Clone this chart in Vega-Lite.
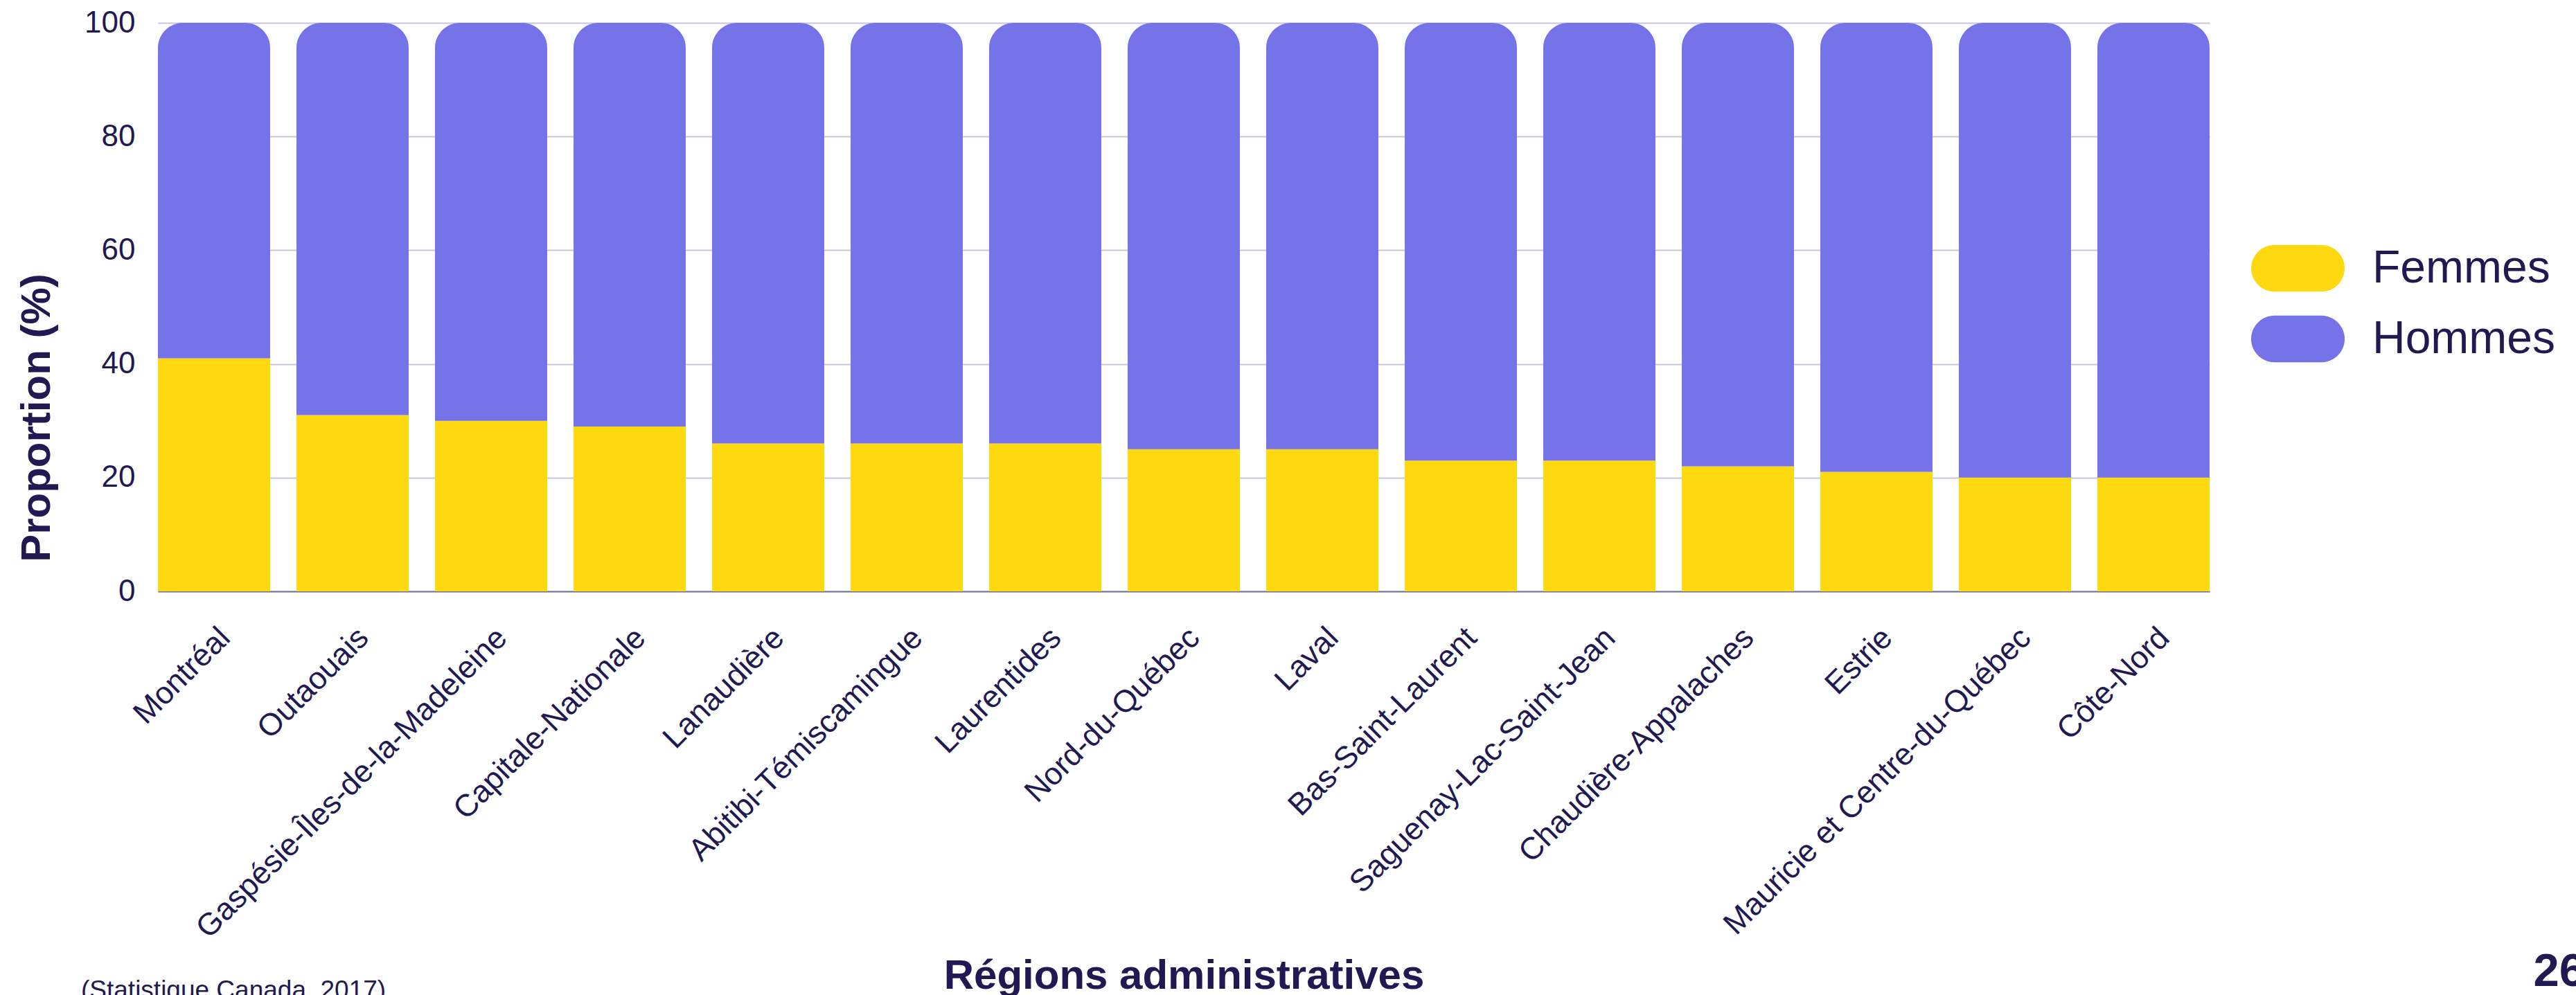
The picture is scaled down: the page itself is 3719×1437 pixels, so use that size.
{
  "$schema": "https://vega.github.io/schema/vega-lite/v6.json",
  "width": 2962,
  "height": 821,
  "autosize": {"type": "none"},
  "padding": {"left": 228, "top": 33, "right": 529, "bottom": 583},
  "background": "white",
  "config": {
    "view": {"stroke": null},
    "font": "Liberation Sans",
    "axis": {"labelFont": "Liberation Sans", "titleFont": "Liberation Sans"},
    "legend": {"labelFont": "Liberation Sans"}
  },
  "title": {
    "text": "(Statistique Canada, 2017)",
    "orient": "bottom",
    "anchor": "start",
    "frame": "group",
    "font": "Liberation Sans",
    "fontSize": 37,
    "fontWeight": "normal",
    "color": "#211A52",
    "dx": -111,
    "dy": -30
  },
  "data": {
    "values": [
      {"Region": "Montréal", "Sexe": "Femmes", "Pct": 41},
      {"Region": "Montréal", "Sexe": "Hommes", "Pct": 59},
      {"Region": "Outaouais", "Sexe": "Femmes", "Pct": 31},
      {"Region": "Outaouais", "Sexe": "Hommes", "Pct": 69},
      {"Region": "Gaspésie-Îles-de-la-Madeleine", "Sexe": "Femmes", "Pct": 30},
      {"Region": "Gaspésie-Îles-de-la-Madeleine", "Sexe": "Hommes", "Pct": 70},
      {"Region": "Capitale-Nationale", "Sexe": "Femmes", "Pct": 29},
      {"Region": "Capitale-Nationale", "Sexe": "Hommes", "Pct": 71},
      {"Region": "Lanaudière", "Sexe": "Femmes", "Pct": 26},
      {"Region": "Lanaudière", "Sexe": "Hommes", "Pct": 74},
      {"Region": "Abitibi-Témiscamingue", "Sexe": "Femmes", "Pct": 26},
      {"Region": "Abitibi-Témiscamingue", "Sexe": "Hommes", "Pct": 74},
      {"Region": "Laurentides", "Sexe": "Femmes", "Pct": 26},
      {"Region": "Laurentides", "Sexe": "Hommes", "Pct": 74},
      {"Region": "Nord-du-Québec", "Sexe": "Femmes", "Pct": 25},
      {"Region": "Nord-du-Québec", "Sexe": "Hommes", "Pct": 75},
      {"Region": "Laval", "Sexe": "Femmes", "Pct": 25},
      {"Region": "Laval", "Sexe": "Hommes", "Pct": 75},
      {"Region": "Bas-Saint-Laurent", "Sexe": "Femmes", "Pct": 23},
      {"Region": "Bas-Saint-Laurent", "Sexe": "Hommes", "Pct": 77},
      {"Region": "Saguenay-Lac-Saint-Jean", "Sexe": "Femmes", "Pct": 23},
      {"Region": "Saguenay-Lac-Saint-Jean", "Sexe": "Hommes", "Pct": 77},
      {"Region": "Chaudière-Appalaches", "Sexe": "Femmes", "Pct": 22},
      {"Region": "Chaudière-Appalaches", "Sexe": "Hommes", "Pct": 78},
      {"Region": "Estrie", "Sexe": "Femmes", "Pct": 21},
      {"Region": "Estrie", "Sexe": "Hommes", "Pct": 79},
      {"Region": "Mauricie et Centre-du-Québec", "Sexe": "Femmes", "Pct": 20},
      {"Region": "Mauricie et Centre-du-Québec", "Sexe": "Hommes", "Pct": 80},
      {"Region": "Côte-Nord", "Sexe": "Femmes", "Pct": 20},
      {"Region": "Côte-Nord", "Sexe": "Hommes", "Pct": 80}
    ]
  },
  "transform": [
    {"stack": "Pct", "groupby": ["Region"], "sort": [{"field": "Sexe", "order": "ascending"}], "as": ["y0", "y1"]}
  ],
  "encoding": {
    "x": {
      "field": "Region",
      "type": "nominal",
      "sort": ["Montréal", "Outaouais", "Gaspésie-Îles-de-la-Madeleine", "Capitale-Nationale", "Lanaudière", "Abitibi-Témiscamingue", "Laurentides", "Nord-du-Québec", "Laval", "Bas-Saint-Laurent", "Saguenay-Lac-Saint-Jean", "Chaudière-Appalaches", "Estrie", "Mauricie et Centre-du-Québec", "Côte-Nord"],
      "scale": {"paddingInner": 0.19, "paddingOuter": 0},
      "axis": {
        "title": "Régions administratives",
        "titleFontSize": 60,
        "titleFontWeight": "bold",
        "titleColor": "#211A52",
        "titleX": 1481,
        "titleY": 573,
        "titleAlign": "center",
        "titleBaseline": "alphabetic",
        "labelAngle": -45,
        "labelAlign": "right",
        "labelBaseline": "top",
        "labelFontSize": 45,
        "labelColor": "#211A52",
        "labelPadding": 44,
        "labelOverlap": false,
        "labelLimit": 0,
        "ticks": false,
        "domain": true,
        "domainColor": "#77739A",
        "domainWidth": 2,
        "grid": false
      }
    },
    "color": {
      "field": "Sexe",
      "type": "nominal",
      "scale": {"domain": ["Femmes", "Hommes"], "range": ["#FFD910", "#7672E7"]},
      "legend": {
        "title": null,
        "orient": "none",
        "legendX": 3022,
        "legendY": 287,
        "padding": 0,
        "symbolType": "M-0.5,-0.5 L0.5,-0.5 A0.5,0.5 0 0 1 0.5,0.5 L-0.5,0.5 A0.5,0.5 0 0 1 -0.5,-0.5 Z",
        "symbolSize": 18225,
        "symbolStrokeWidth": 0,
        "symbolOpacity": 1,
        "labelFontSize": 66,
        "labelColor": "#211A52",
        "labelOffset": 40,
        "labelLimit": 0,
        "rowPadding": 0
      }
    }
  },
  "layer": [
    {
      "transform": [{"filter": "datum.Sexe === 'Femmes'"}],
      "mark": {"type": "bar"},
      "encoding": {
        "y": {
          "field": "y1",
          "type": "quantitative",
          "scale": {"domain": [0, 100], "nice": false},
          "axis": {
            "title": "Proportion (%)",
            "titleFontSize": 60,
            "titleFontWeight": "bold",
            "titleColor": "#211A52",
            "titleAngle": -90,
            "titleX": -157,
            "titleY": 570,
            "titleAlign": "center",
            "titleBaseline": "alphabetic",
            "values": [0, 20, 40, 60, 80, 100],
            "labelFontSize": 44,
            "labelColor": "#211A52",
            "labelPadding": 33,
            "ticks": false,
            "domain": false,
            "grid": true,
            "gridColor": "#C8C6D9",
            "gridWidth": 2
          }
        },
        "y2": {"field": "y0"}
      }
    },
    {
      "transform": [{"filter": "datum.Sexe === 'Hommes'"}],
      "mark": {"type": "bar", "cornerRadiusTopLeft": 36, "cornerRadiusTopRight": 36},
      "encoding": {
        "y": {
          "field": "y1",
          "type": "quantitative",
          "scale": {"domain": [0, 100], "nice": false},
          "axis": {
            "orient": "right",
            "title": "26",
            "titleFontSize": 67,
            "titleFontWeight": "bold",
            "titleColor": "#211A52",
            "titleAngle": 0,
            "titleX": 467,
            "titleY": 1390,
            "titleAlign": "left",
            "titleBaseline": "alphabetic",
            "labels": false,
            "ticks": false,
            "domain": false,
            "grid": false
          }
        },
        "y2": {"field": "y0"}
      }
    }
  ],
  "resolve": {"axis": {"y": "independent"}}
}
